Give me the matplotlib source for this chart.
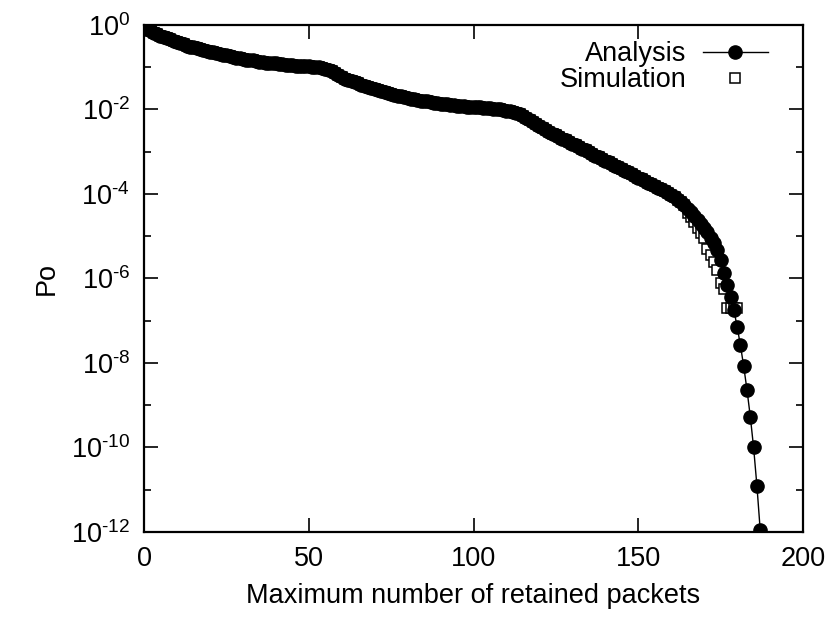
import numpy as np
import matplotlib
matplotlib.use("Agg")
import matplotlib.pyplot as plt
from matplotlib.ticker import LogLocator, FixedLocator, NullFormatter, FuncFormatter

plt.rcParams['font.family'] = ['Liberation Sans', 'DejaVu Sans']
plt.rcParams['axes.unicode_minus'] = False
plt.rcParams['mathtext.fontset'] = 'custom'
plt.rcParams['mathtext.rm'] = 'Liberation Sans'
plt.rcParams['mathtext.default'] = 'regular'

# analysis curve: log10(Po) for every packet count 0..187
analysis_log = [
    -0.03, -0.09, -0.14, -0.18, -0.22, -0.25, -0.28, -0.31, -0.34, -0.37,
    -0.40, -0.43, -0.46, -0.49, -0.51, -0.53, -0.55, -0.57, -0.59, -0.61,
    -0.63, -0.65, -0.67, -0.69, -0.70, -0.72, -0.74, -0.75, -0.77, -0.79,
    -0.80, -0.82, -0.83, -0.84, -0.86, -0.87, -0.88, -0.89, -0.90, -0.91,
    -0.91, -0.92, -0.93, -0.94, -0.95, -0.95, -0.96, -0.96, -0.97, -0.97,
    -0.98, -0.99, -0.99, -1.00, -1.02, -1.04, -1.06, -1.10, -1.14, -1.19,
    -1.23, -1.27, -1.30, -1.33, -1.36, -1.38, -1.41, -1.44, -1.46, -1.49,
    -1.51, -1.54, -1.56, -1.58, -1.61, -1.63, -1.65, -1.67, -1.69, -1.71,
    -1.73, -1.74, -1.76, -1.77, -1.79, -1.80, -1.81, -1.83, -1.84, -1.85,
    -1.87, -1.88, -1.88, -1.89, -1.90, -1.91, -1.92, -1.92, -1.93, -1.93,
    -1.94, -1.94, -1.95, -1.96, -1.96, -1.97, -1.98, -1.99, -2.00, -2.01,
    -2.03, -2.04, -2.06, -2.08, -2.11, -2.15, -2.19, -2.24, -2.29, -2.34,
    -2.39, -2.44, -2.49, -2.53, -2.57, -2.61, -2.65, -2.69, -2.73, -2.77,
    -2.81, -2.85, -2.89, -2.93, -2.97, -3.01, -3.05, -3.09, -3.13, -3.17,
    -3.21, -3.25, -3.29, -3.33, -3.37, -3.41, -3.45, -3.49, -3.53, -3.57,
    -3.61, -3.65, -3.69, -3.73, -3.77, -3.81, -3.85, -3.89, -3.94, -3.98,
    -4.03, -4.08, -4.14, -4.20, -4.27, -4.35, -4.43, -4.52, -4.61, -4.70,
    -4.80, -4.91, -5.03, -5.16, -5.32, -5.56, -5.86, -6.15, -6.43, -6.74,
    -7.14, -7.58, -8.08, -8.64, -9.27, -10.00, -10.90, -11.95,
]
analysis_x = list(range(len(analysis_log)))

# simulation: same as analysis where hidden under the band, then its own tail
sim_tail_x = [165, 166, 167, 168, 169, 170, 171, 172, 173, 174, 175, 176, 177, 178, 179, 180]
sim_tail_log = [-4.45, -4.55, -4.66, -4.80, -4.93, -5.04, -5.30, -5.45, -5.62, -5.80,
                -6.10, -6.25, -6.70, -6.70, -6.70, -6.70]
sim_x = analysis_x[:165] + sim_tail_x
sim_log = analysis_log[:165] + sim_tail_log

x_ticks = [0, 50, 100, 150, 200]


def pow_label(v, pos):
    # gnuplot style "10^-2" with a plain hyphen in the exponent
    e = int(round(np.log10(v)))
    return r'$10^{%s}$' % str(e).replace('-', '\u2010')


fig = plt.figure(figsize=(8.30, 6.17), dpi=100)
ax = fig.add_axes([0.1735, 0.1378, 0.794, 0.8217])

ax.plot(analysis_x, 10 ** np.array(analysis_log), color='black', lw=1.0,
        marker='o', markersize=9.5, label='Analysis', zorder=3)
ax.plot(sim_x, 10 ** np.array(sim_log), linestyle='none', marker='s',
        markersize=7.5, markerfacecolor='white', markeredgecolor='black',
        markeredgewidth=1.1, label='Simulation', zorder=2)

ax.set_yscale('log')
ax.set_xlim(0, 200)
ax.set_ylim(1e-12, 1e0)
ax.xaxis.set_major_locator(FixedLocator(x_ticks))
ax.yaxis.set_major_locator(LogLocator(base=100, numticks=20))
ax.yaxis.set_major_formatter(FuncFormatter(pow_label))
ax.yaxis.set_minor_locator(FixedLocator([10.0 ** k for k in range(-11, 0, 2)]))
ax.yaxis.set_minor_formatter(NullFormatter())
ax.tick_params(which='both', direction='in', top=True, right=True,
               labelsize=19.5, color='black')
ax.tick_params(which='major', length=10, width=1.2, pad=10)
ax.tick_params(which='minor', length=5, width=1.2)
for s in ax.spines.values():
    s.set_linewidth(1.6)

ax.set_xlabel('Maximum number of retained packets', fontsize=19.5, labelpad=8)
ax.set_ylabel('Po', fontsize=19.5, labelpad=8)

ax.legend(loc='upper right', bbox_to_anchor=(0.975, 1.005), frameon=False,
          markerfirst=False, fontsize=19.5, handlelength=2.4, labelspacing=0.0,
          borderaxespad=0.3, handletextpad=0.6)

fig.savefig('out.png', dpi=100)
